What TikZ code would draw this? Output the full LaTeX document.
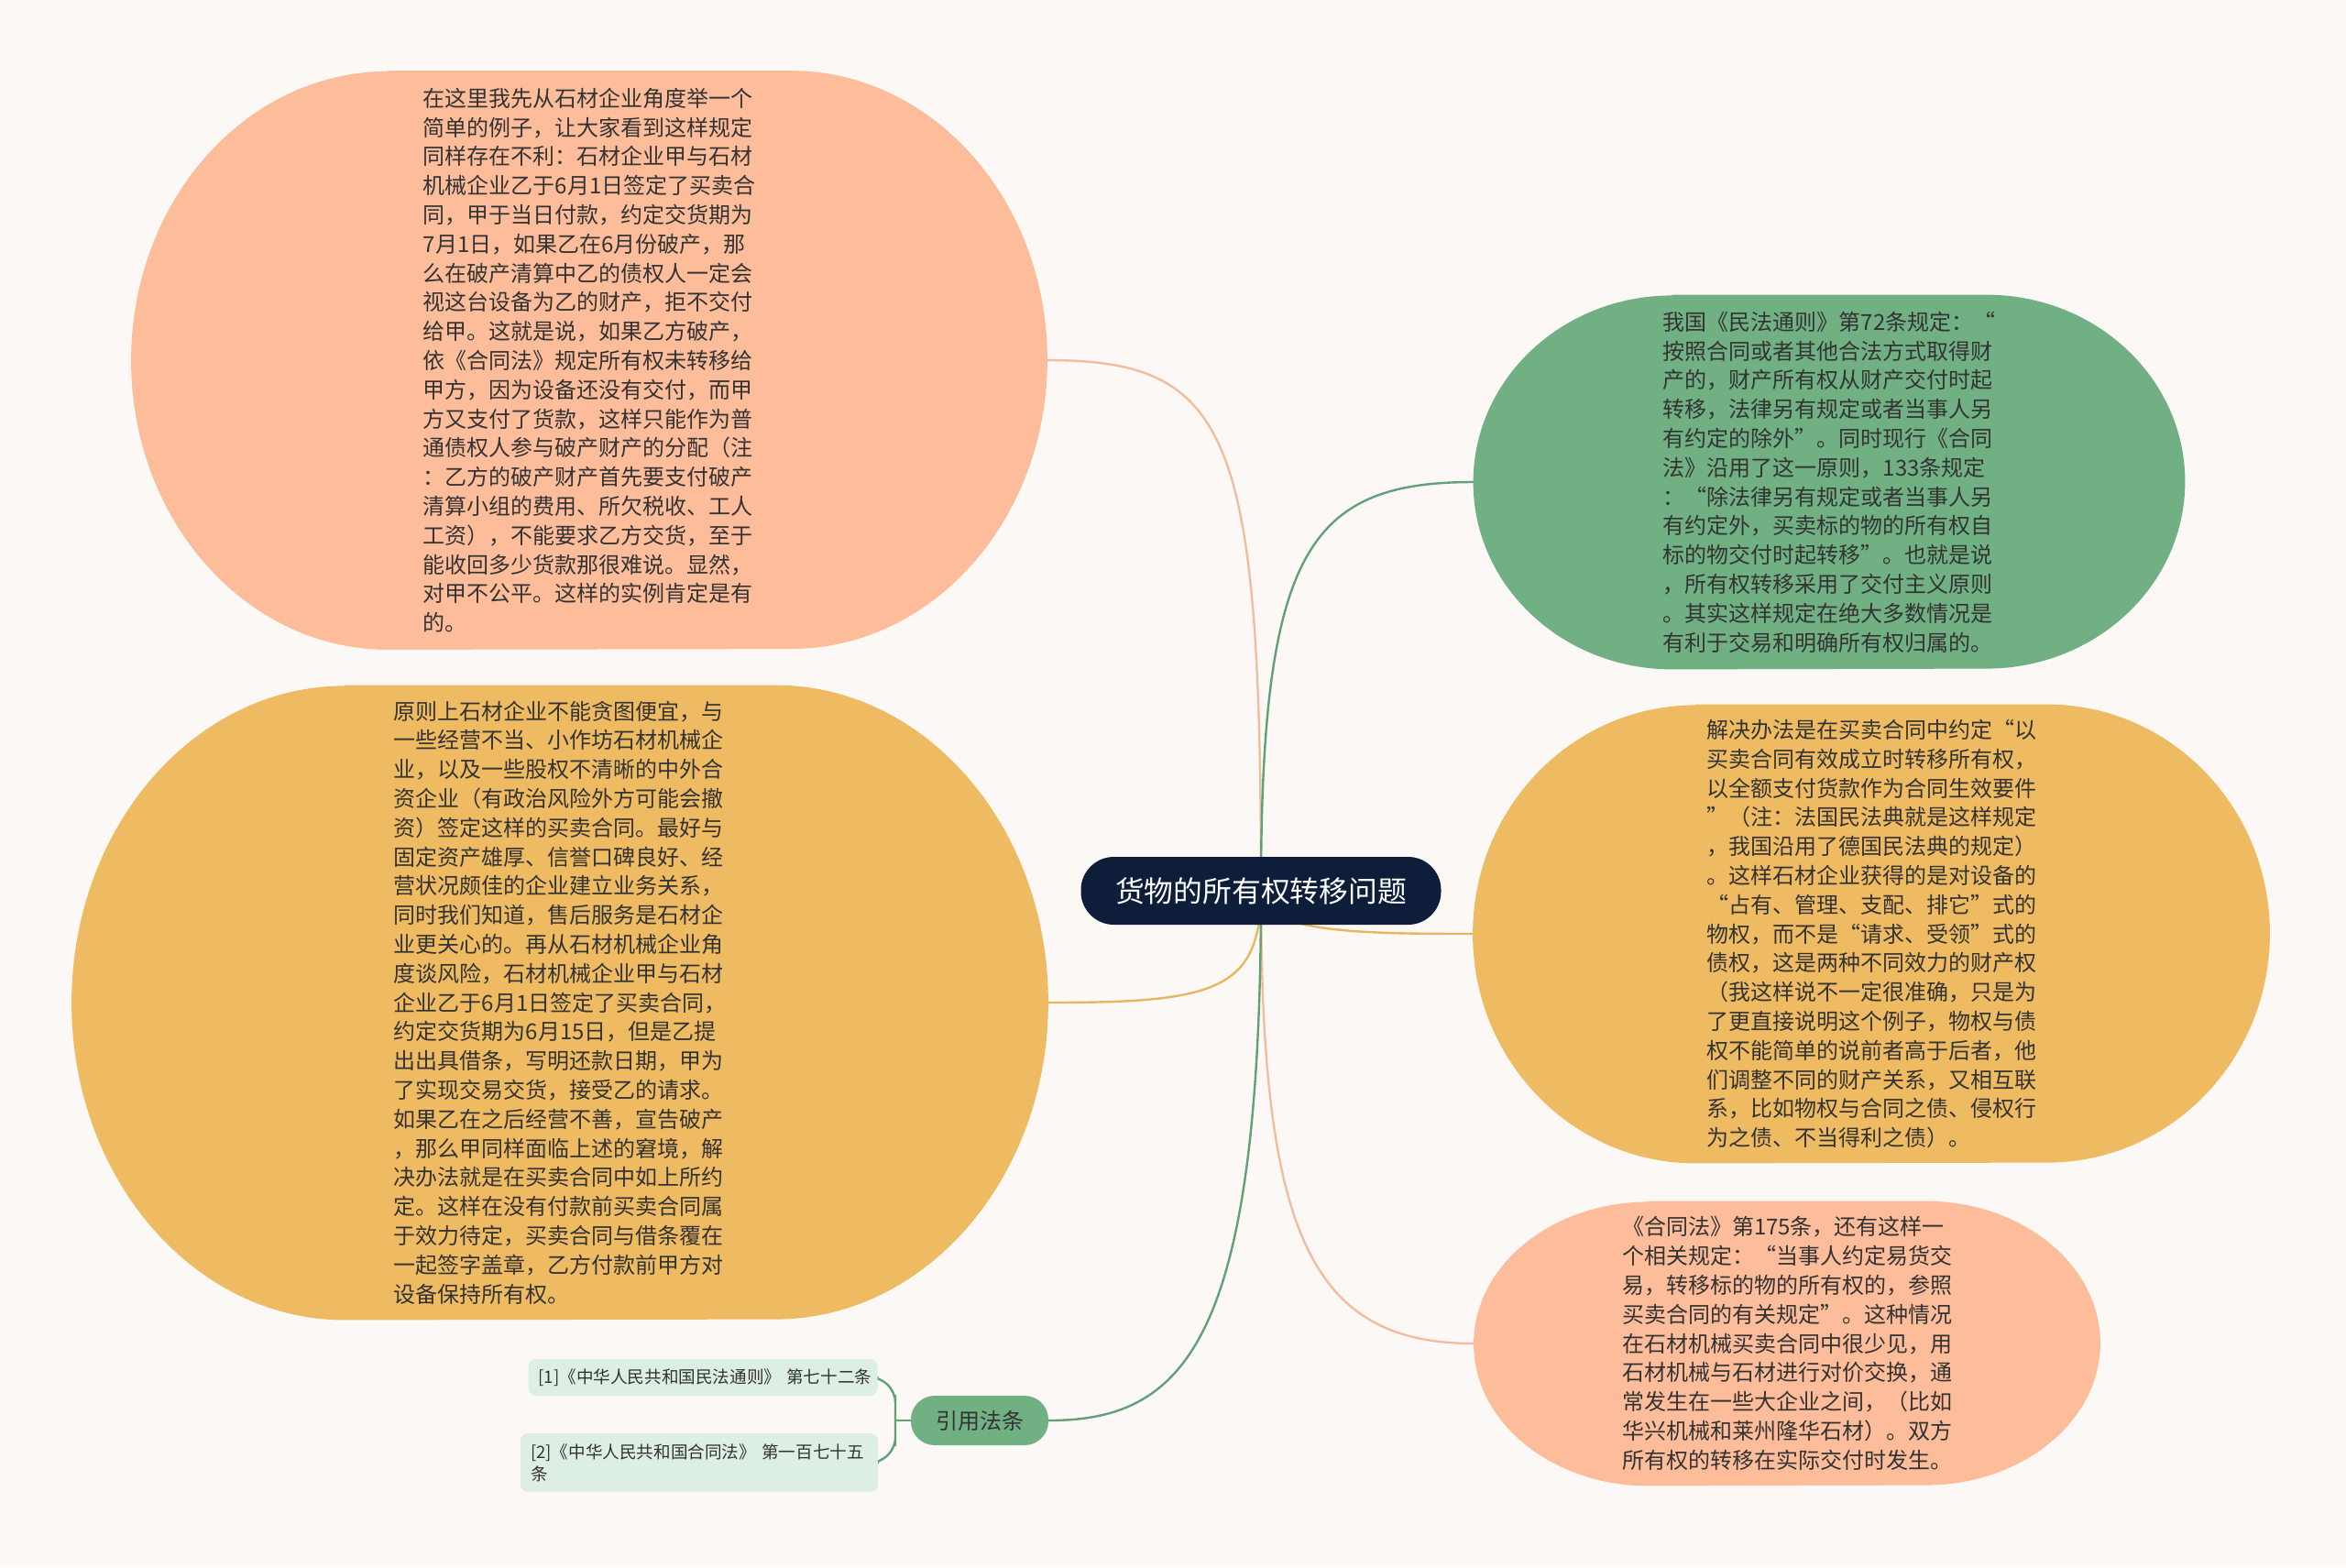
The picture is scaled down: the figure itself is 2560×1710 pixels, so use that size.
\documentclass[tikz,border=0pt]{standalone}
\usepackage{fontspec}
\setmainfont{Noto Sans CJK SC}
\usepackage{tikz}
\usetikzlibrary{positioning}
\usetikzlibrary{backgrounds}

\definecolor{paper}{HTML}{FCF8F6}
\definecolor{salmon}{HTML}{FDBD9B}
\definecolor{amber}{HTML}{EFBB62}
\definecolor{sage}{HTML}{70B083}
\definecolor{navy}{HTML}{0E1E3A}
\definecolor{mint}{HTML}{DDEEE3}
\definecolor{ink}{HTML}{333333}
\definecolor{salmonline}{HTML}{F0BE9F}
\definecolor{amberline}{HTML}{E8B65F}
\definecolor{sageline}{HTML}{62A176}

% fill behind a topic node: flat top and bottom, elliptic ends
\newcommand{\blobfill}[4]{%
    \fill[#2] ([xshift=#3]#1.north west) -- ([xshift=-#3]#1.north east)
    arc[start angle=90, end angle=-90, x radius=#3, y radius=#4]
    -- ([xshift=#3]#1.south west)
    arc[start angle=270, end angle=90, x radius=#3, y radius=#4] -- cycle;}

\begin{document}
\begin{tikzpicture}[x=0.5pt, y=-0.5pt,
    topic/.style={align=left, text=ink, inner sep=0pt,
        font=\fontsize{12}{15.9}\selectfont},
    lawref/.style={fill=mint, rounded corners=4pt, align=left, text=ink,
        inner xsep=5.5pt, inner ysep=0pt, minimum height=20pt,
        font=\fontsize{9.3}{12}\selectfont},
    branch/.style={line width=1.2pt, line cap=round}]

    \useasboundingbox (0,0) rectangle (2560,1710);

    \node[topic, minimum width=499.5pt, minimum height=315.5pt]
    (tl) at (643,393) {在这里我先从石材企业角度举一个\\
        简单的例子，让大家看到这样规定\\
        同样存在不利：石材企业甲与石材\\
        机械企业乙于6月1日签定了买卖合\\
        同，甲于当日付款，约定交货期为\\
        7月1日，如果乙在6月份破产，那\\
        么在破产清算中乙的债权人一定会\\
        视这台设备为乙的财产，拒不交付\\
        给甲。这就是说，如果乙方破产，\\
        依《合同法》规定所有权未转移给\\
        甲方，因为设备还没有交付，而甲\\
        方又支付了货款，这样只能作为普\\
        通债权人参与破产财产的分配（注\\
        ：乙方的破产财产首先要支付破产\\
        清算小组的费用、所欠税收、工人\\
        工资），不能要求乙方交货，至于\\
        能收回多少货款那很难说。显然，\\
        对甲不公平。这样的实例肯定是有\\
        的。};

    \node[topic, minimum width=532.5pt, minimum height=346pt]
    (ml) at (611,1094) {原则上石材企业不能贪图便宜，与\\
        一些经营不当、小作坊石材机械企\\
        业，以及一些股权不清晰的中外合\\
        资企业（有政治风险外方可能会撤\\
        资）签定这样的买卖合同。最好与\\
        固定资产雄厚、信誉口碑良好、经\\
        营状况颇佳的企业建立业务关系，\\
        同时我们知道，售后服务是石材企\\
        业更关心的。再从石材机械企业角\\
        度谈风险，石材机械企业甲与石材\\
        企业乙于6月1日签定了买卖合同，\\
        约定交货期为6月15日，但是乙提\\
        出出具借条，写明还款日期，甲为\\
        了实现交易交货，接受乙的请求。\\
        如果乙在之后经营不善，宣告破产\\
        ，那么甲同样面临上述的窘境，解\\
        决办法就是在买卖合同中如上所约\\
        定。这样在没有付款前买卖合同属\\
        于效力待定，买卖合同与借条覆在\\
        一起签字盖章，乙方付款前甲方对\\
        设备保持所有权。};

    \node[topic, minimum width=388pt, minimum height=204pt]
    (tr) at (1996,526) {我国《民法通则》第72条规定：“\\
        按照合同或者其他合法方式取得财\\
        产的，财产所有权从财产交付时起\\
        转移，法律另有规定或者当事人另\\
        有约定的除外”。同时现行《合同\\
        法》沿用了这一原则，133条规定\\
        ：“除法律另有规定或者当事人另\\
        有约定外，买卖标的物的所有权自\\
        标的物交付时起转移”。也就是说\\
        ，所有权转移采用了交付主义原则\\
        。其实这样规定在绝大多数情况是\\
        有利于交易和明确所有权归属的。};

    \node[topic, minimum width=434.5pt, minimum height=250pt]
    (mr) at (2042,1019) {解决办法是在买卖合同中约定“以\\
        买卖合同有效成立时转移所有权，\\
        以全额支付货款作为合同生效要件\\
        ”（注：法国民法典就是这样规定\\
        ，我国沿用了德国民法典的规定）\\
        。这样石材企业获得的是对设备的\\
        “占有、管理、支配、排它”式的\\
        物权，而不是“请求、受领”式的\\
        债权，这是两种不同效力的财产权\\
        （我这样说不一定很准确，只是为\\
        了更直接说明这个例子，物权与债\\
        权不能简单的说前者高于后者，他\\
        们调整不同的财产关系，又相互联\\
        系，比如物权与合同之债、侵权行\\
        为之债、不当得利之债）。};

    \node[topic, minimum width=341.5pt, minimum height=155pt]
    (br) at (1950,1466) {《合同法》第175条，还有这样一\\
        个相关规定：“当事人约定易货交\\
        易，转移标的物的所有权的，参照\\
        买卖合同的有关规定”。这种情况\\
        在石材机械买卖合同中很少见，用\\
        石材机械与石材进行对价交换，通\\
        常发生在一些大企业之间，（比如\\
        华兴机械和莱州隆华石材）。双方\\
        所有权的转移在实际交付时发生。};

    \node[fill=navy, rounded corners=18pt, minimum width=196.5pt,
    minimum height=37pt, inner sep=0pt, text=white,
    font=\fontsize{15.9}{18}\selectfont]
    (root) at (1376,972) {货物的所有权转移问题};

    \node[fill=sage, rounded corners=13pt, minimum width=75pt,
    minimum height=27pt, inner sep=0pt, text=ink,
    font=\fontsize{12}{14}\selectfont]
    (cite) at (1069,1550) {引用法条};

    \node[lawref, text width=179.5pt]
    (r1) at (767,1503) {\mbox{[1]《中华人民共和国民法通则》 第七十二条}};
    \node[lawref, text width=184pt, minimum height=32pt]
    (r2) at (763,1596) {[2]《中华人民共和国合同法》 第一百七十五\\条};

    \begin{scope}[on background layer]
        \fill[paper] (0,0) rectangle (2560,1710);

        \draw[branch, salmonline] (root.center)
        .. controls +(0,-500) and +(200,0) .. (tl.east);
        \draw[branch, amberline] (root.center)
        .. controls +(0,110) and +(180,0) .. (ml.east);
        \draw[branch, sageline] (root.center)
        .. controls +(0,-370) and +(-180,0) .. (tr.west);
        \draw[branch, amberline] (root.center)
        .. controls +(0,45) and +(-130,0) .. (mr.west);
        \draw[branch, salmonline] (root.center)
        .. controls +(0,370) and +(-180,0) .. (br.west);
        \draw[branch, sageline] (root.center)
        .. controls +(0,490) and +(150,0) .. (cite.east);

        \coordinate (fork) at (977,1550);
        \draw[branch, sageline] (cite.west) -- (fork);
        \draw[branch, sageline, rounded corners=14pt]
        (r1.east) -| (fork) |- (r2.east);

        \blobfill{tl}{salmon}{140pt}{157.75pt}
        \blobfill{ml}{amber}{149pt}{173pt}
        \blobfill{tr}{sage}{108.5pt}{102pt}
        \blobfill{mr}{amber}{121.5pt}{125pt}
        \blobfill{br}{salmon}{95.5pt}{77.5pt}
    \end{scope}
\end{tikzpicture}
\end{document}
